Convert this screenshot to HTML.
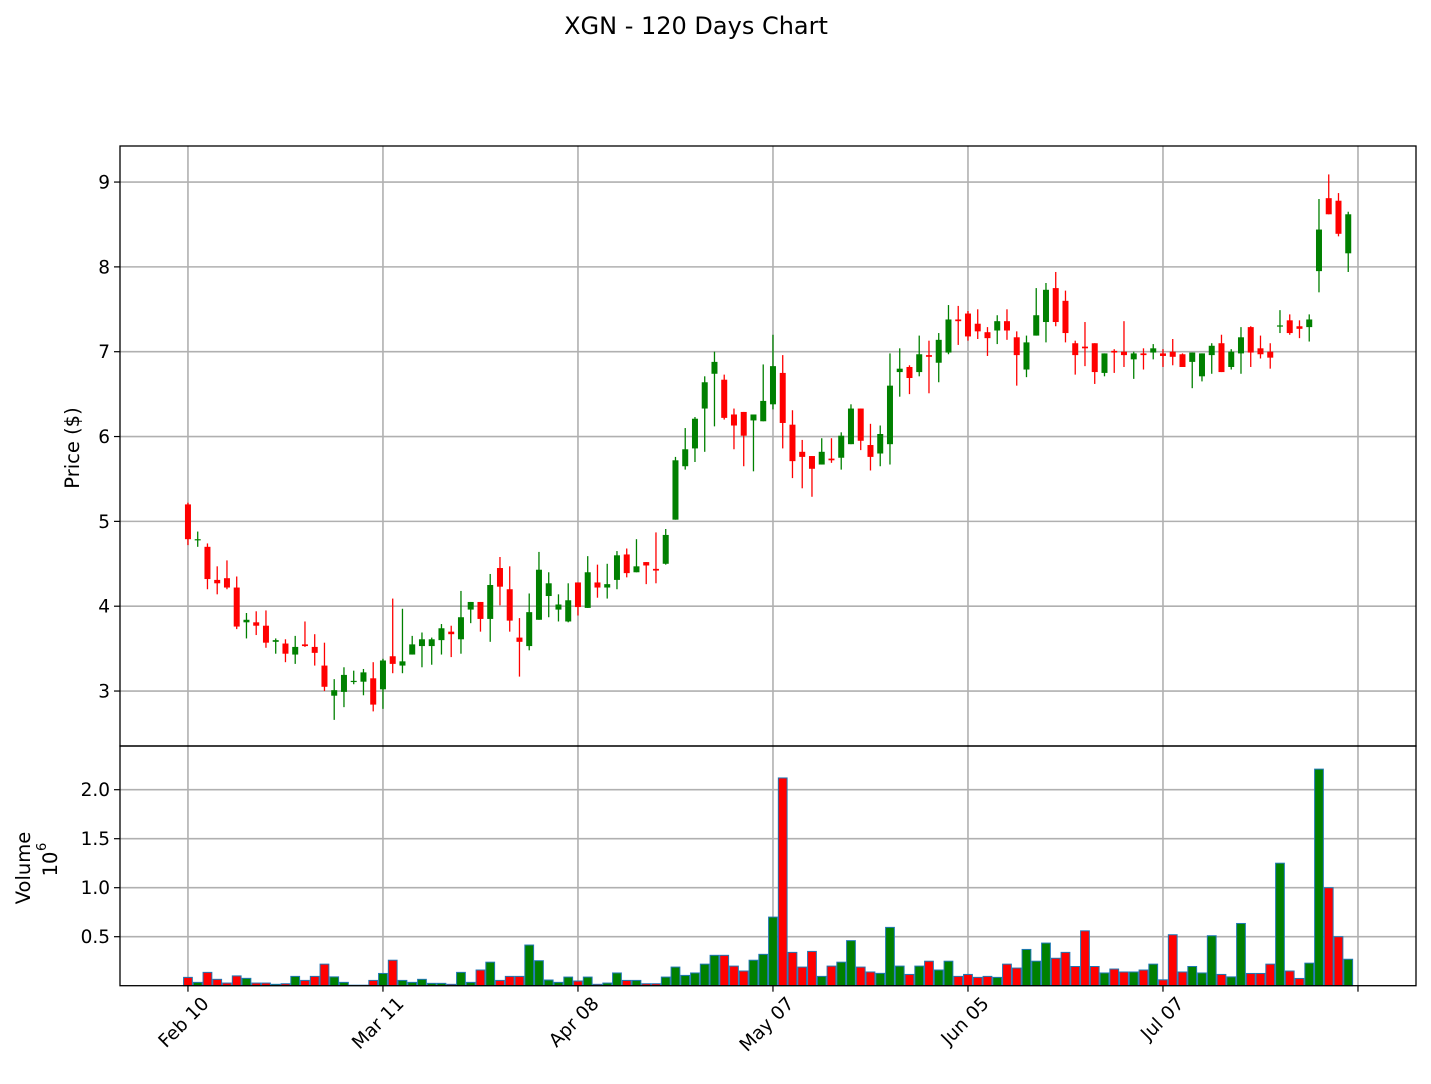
<!DOCTYPE html>
<html><head><meta charset="utf-8"><style>
html,body{margin:0;padding:0;background:#fff}
svg{display:block;font-family:"DejaVu Sans","Liberation Sans",sans-serif}
</style></head><body>
<svg id="chart" width="1431" height="1084" viewBox="0 0 1431 1084" xmlns="http://www.w3.org/2000/svg">
<text x="696" y="34" font-size="24" text-anchor="middle" fill="#000">XGN - 120 Days Chart</text>
<g id="grid"></g><g id="vol"></g><g id="candles"></g><g id="axes"></g>
</svg>
<script>
const opens=[5.20,4.78,4.70,4.31,4.33,4.22,3.81,3.81,3.77,3.58,3.56,3.43,3.55,3.52,3.30,2.945,2.99,3.11,3.11,3.15,3.02,3.41,3.30,3.43,3.53,3.53,3.60,3.70,3.61,3.96,4.05,3.85,4.45,4.20,3.63,3.53,3.84,4.12,3.96,3.82,4.28,3.98,4.28,4.22,4.31,4.61,4.40,4.52,4.44,4.50,5.02,5.65,5.86,6.33,6.74,6.67,6.26,6.29,6.19,6.18,6.38,6.75,6.14,5.82,5.77,5.67,5.74,5.75,5.91,6.33,5.90,5.80,5.91,6.76,6.82,6.76,6.96,6.87,6.99,7.38,7.45,7.33,7.23,7.25,7.36,7.17,6.79,7.19,7.35,7.75,7.60,7.10,7.06,7.10,6.75,7.01,7.00,6.91,6.98,6.99,6.98,7.00,6.97,6.88,6.71,6.96,7.10,6.82,6.98,7.29,7.04,7.00,7.30,7.37,7.30,7.29,7.95,8.81,8.78,8.16];
const highs=[5.22,4.88,4.74,4.47,4.54,4.35,3.92,3.94,3.95,3.62,3.61,3.65,3.82,3.67,3.57,3.14,3.28,3.24,3.26,3.34,3.38,4.09,3.97,3.65,3.69,3.63,3.79,3.77,4.18,4.05,4.05,4.38,4.58,4.47,3.86,4.15,4.64,4.40,4.14,4.27,4.28,4.59,4.49,4.50,4.65,4.68,4.79,4.52,4.87,4.91,5.76,6.10,6.23,6.71,7.00,6.73,6.33,6.29,6.26,6.85,7.20,6.96,6.31,5.96,5.77,5.98,5.98,6.05,6.38,6.33,6.15,6.13,6.98,7.04,6.84,7.19,7.13,7.22,7.55,7.54,7.48,7.50,7.29,7.43,7.50,7.24,7.19,7.75,7.81,7.94,7.72,7.13,7.35,7.10,6.98,7.03,7.36,7.00,7.04,7.09,7.03,7.15,6.98,6.99,6.98,7.10,7.20,7.03,7.29,7.30,7.19,7.10,7.49,7.44,7.37,7.44,8.80,9.09,8.87,8.65];
const lows=[4.72,4.70,4.20,4.14,4.20,3.73,3.62,3.66,3.51,3.44,3.34,3.32,3.52,3.30,3.00,2.66,2.81,3.08,2.95,2.76,2.79,3.21,3.21,3.43,3.28,3.31,3.43,3.40,3.44,3.80,3.70,3.58,4.01,3.70,3.17,3.48,3.84,3.87,3.82,3.81,3.89,3.98,4.10,4.09,4.20,4.34,4.40,4.26,4.27,4.49,5.02,5.61,5.70,5.82,6.12,6.20,5.85,5.65,5.59,6.18,6.32,5.86,5.51,5.39,5.29,5.67,5.69,5.61,5.91,5.84,5.60,5.65,5.67,6.47,6.50,6.71,6.51,6.64,6.97,7.08,7.13,7.15,6.95,7.09,7.14,6.60,6.70,7.19,7.11,7.30,7.11,6.73,6.83,6.62,6.71,6.75,6.82,6.68,6.79,6.91,6.82,6.84,6.82,6.57,6.65,6.74,6.76,6.79,6.74,6.82,6.92,6.80,7.22,7.20,7.16,7.12,7.70,8.62,8.36,7.94];
const closes=[4.79,4.79,4.32,4.27,4.22,3.76,3.84,3.77,3.57,3.60,3.44,3.52,3.53,3.45,3.05,3.01,3.19,3.12,3.22,2.84,3.36,3.32,3.35,3.55,3.61,3.61,3.74,3.67,3.87,4.05,3.85,4.25,4.23,3.83,3.58,3.93,4.43,4.27,4.02,4.07,3.99,4.40,4.22,4.26,4.60,4.39,4.47,4.48,4.42,4.84,5.72,5.85,6.21,6.64,6.88,6.22,6.13,6.01,6.26,6.42,6.83,6.16,5.71,5.76,5.62,5.82,5.72,6.01,6.33,5.95,5.76,6.03,6.60,6.80,6.69,6.97,6.94,7.14,7.38,7.36,7.18,7.24,7.16,7.36,7.25,6.96,7.11,7.43,7.73,7.35,7.22,6.96,7.04,6.76,6.98,6.99,6.96,6.98,6.96,7.04,6.95,6.94,6.82,6.99,6.98,7.07,6.76,7.00,7.17,6.99,6.97,6.93,7.31,7.22,7.27,7.38,8.44,8.62,8.39,8.62];
const volumes=[0.085,0.034,0.136,0.065,0.027,0.10,0.075,0.027,0.027,0.014,0.02,0.095,0.054,0.095,0.22,0.09,0.034,0.005,0.005,0.054,0.125,0.26,0.054,0.034,0.065,0.024,0.024,0.014,0.136,0.034,0.16,0.24,0.054,0.095,0.095,0.415,0.255,0.058,0.034,0.088,0.048,0.088,0.014,0.027,0.13,0.054,0.054,0.02,0.02,0.088,0.19,0.105,0.13,0.22,0.31,0.31,0.20,0.15,0.26,0.32,0.70,2.12,0.34,0.19,0.35,0.095,0.20,0.24,0.46,0.19,0.14,0.126,0.595,0.20,0.115,0.20,0.25,0.16,0.25,0.095,0.115,0.085,0.095,0.085,0.22,0.18,0.37,0.25,0.435,0.28,0.34,0.196,0.56,0.196,0.13,0.17,0.14,0.14,0.16,0.22,0.06,0.52,0.14,0.196,0.13,0.51,0.115,0.09,0.635,0.125,0.125,0.22,1.25,0.15,0.074,0.23,2.21,1.0,0.5,0.27];
const xTickIdx=[0,20,40,60,80,100,120];
const xTickLabels=["Feb 10","Mar 11","Apr 08","May 07","Jun 05","Jul 07",""];
const priceTicks=[3,4,5,6,7,8,9];
const volTicks=[0.5,1.0,1.5,2.0];

const NS="http://www.w3.org/2000/svg";
const L=120,R=1416,PT=146,PB=746,VT=746,VB=985.7;
const xOf=i=>L+(i+6.97)*(R-L)/(125.95+6.97);
const pY=v=>PB-(v-2.352)*(PB-PT)/(9.425-2.352);
const vY=v=>VB-v*(VB-VT)/2.446;
function mk(tag,attrs,parent){const e=document.createElementNS(NS,tag);for(const k in attrs)e.setAttribute(k,attrs[k]);parent.appendChild(e);return e;}
const grid=document.getElementById('grid'),vol=document.getElementById('vol'),cg=document.getElementById('candles'),ax=document.getElementById('axes');
const FS=18.5;
xTickIdx.forEach((t,k)=>{const x=xOf(t);
 let g1=mk('line',{x1:x,x2:x,y1:PT,y2:PB,stroke:'#b0b0b0','stroke-width':1.6},grid);
 
 let g2=mk('line',{x1:x,x2:x,y1:VT,y2:VB,stroke:'#b0b0b0','stroke-width':1.6},grid);
 
 let tk=mk('line',{x1:x,x2:x,y1:VB,y2:VB+6,stroke:'#000','stroke-width':1.2},ax);
 
 if(xTickLabels[k]){const ax0=x+22,ay0=VB+19;let tx=mk('text',{x:ax0,y:ay0,'font-size':FS,'text-anchor':'end',transform:`rotate(-45 ${ax0} ${ay0})`},ax);tx.textContent=xTickLabels[k];
 }
});
priceTicks.forEach(v=>{const y=pY(v);
 let g=mk('line',{x1:L,x2:R,y1:y,y2:y,stroke:'#b0b0b0','stroke-width':1.6},grid);
 
 let tk=mk('line',{x1:L-6,x2:L,y1:y,y2:y,stroke:'#000','stroke-width':1.2},ax);
 
 let tx=mk('text',{x:L-10,y:y+6.5,'font-size':FS,'text-anchor':'end'},ax);tx.textContent=String(v);
 
});
volTicks.forEach(v=>{const y=vY(v);
 let g=mk('line',{x1:L,x2:R,y1:y,y2:y,stroke:'#b0b0b0','stroke-width':1.6},grid);
 
 let tk=mk('line',{x1:L-6,x2:L,y1:y,y2:y,stroke:'#000','stroke-width':1.2},ax);
 
 let tx=mk('text',{x:L-10,y:y+6.5,'font-size':FS,'text-anchor':'end'},ax);tx.textContent=v.toFixed(1);
 
});
const step=(xOf(1)-xOf(0));
opens.forEach((o,i)=>{const c=closes[i],up=c>=o,col=up?'#008000':'#ff0000',x=xOf(i);
 let vb=mk('rect',{x:x-step*0.45,y:vY(volumes[i]),width:step*0.9,height:VB-vY(volumes[i]),fill:col,stroke:'#1f77b4','stroke-width':1},vol);
 
 let w=mk('line',{x1:x,x2:x,y1:pY(highs[i]),y2:pY(lows[i]),stroke:col,'stroke-width':1.3},cg);
 
 const top=pY(Math.max(o,c)),bot=pY(Math.min(o,c));
 let b=mk('rect',{x:x-3,y:top,width:6,height:Math.max(bot-top,1.2),fill:col},cg);
 
});
let f1=mk('rect',{x:L,y:PT,width:R-L,height:PB-PT,fill:'none',stroke:'#000','stroke-width':1.3},ax);

let f2=mk('rect',{x:L,y:VT,width:R-L,height:VB-VT,fill:'none',stroke:'#000','stroke-width':1.3},ax);

let yl=mk('text',{x:79,y:448,'font-size':19.5,'text-anchor':'middle',transform:'rotate(-90 79 448)'},ax);yl.textContent='Price ($)';

let vl=mk('text',{x:30,y:868,'font-size':19.5,'text-anchor':'middle',transform:'rotate(-90 30 868)'},ax);vl.textContent='Volume';

let vl2=mk('text',{x:57,y:864,'font-size':19.5,'text-anchor':'middle',transform:'rotate(-90 57 864)'},ax);vl2.textContent='10';

let vl3=mk('text',{x:46,y:851,'font-size':13,'text-anchor':'start',transform:'rotate(-90 46 851)'},ax);vl3.textContent='6';

</script>
</body></html>
